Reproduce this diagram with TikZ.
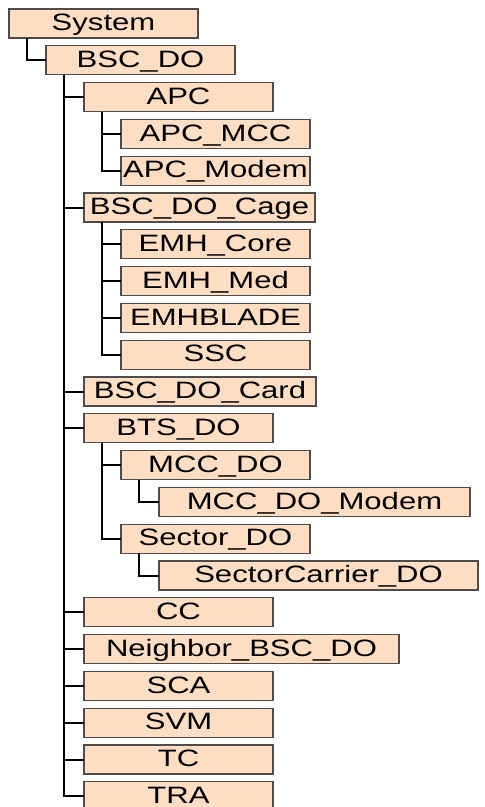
\documentclass[tikz,border=0pt]{standalone}
\usepackage{fontspec}
\newfontfamily\treefont{Liberation Sans}[FakeStretch=1.31]
\definecolor{boxfill}{rgb}{1.00, 0.87, 0.77}
\definecolor{boxline}{rgb}{0.30, 0.30, 0.30}

\begin{document}
\begin{tikzpicture}[x=1pt,y=-1pt,
  item/.style={draw=boxline, line width=1.3pt, fill=boxfill, anchor=north west,
    minimum width=189pt, minimum height=29pt, inner sep=0pt, outer sep=0pt,
    text height=17pt, text depth=2.5pt, font=\treefont\fontsize{23.7}{28}\selectfont},
  link/.style={draw=black, line width=2pt}]

\useasboundingbox (0,0) rectangle (485,807);

\node[item] (sys)      at (9,9)        {System};
\node[item] (bscdo)    at (46,45.8)    {BSC\_DO};

\node[item] (apc)      at (84,82.6)    {APC};
\node[item] (apcmcc)   at (121,119.4)  {APC\_MCC};
\node[item] (apcmodem) at (121,156.2)  {APC\_Modem};

\node[item, minimum width=231pt] (cage) at (84,193) {BSC\_DO\_Cage};
\node[item] (emhcore)  at (121,229.8)  {EMH\_Core};
\node[item] (emhmed)   at (121,266.6)  {EMH\_Med};
\node[item] (emhblade) at (121,303.4)  {EMHBLADE};
\node[item] (ssc)      at (121,340.2)  {SSC};

\node[item, minimum width=232pt] (card) at (84,377) {BSC\_DO\_Card};

\node[item] (btsdo)    at (84,413.8)   {BTS\_DO};
\node[item] (mccdo)    at (121,450.6)  {MCC\_DO};
\node[item, minimum width=311pt] (mccmodem) at (159,487.4) {MCC\_DO\_Modem};
\node[item] (sectordo) at (121,524.2)  {Sector\_DO};
\node[item, minimum width=319pt] (sectorcarrier) at (159,561) {SectorCarrier\_DO};

\node[item] (cc)       at (84,597.8)   {CC};
\node[item, minimum width=315pt] (neighbor) at (84,634.6) {Neighbor\_BSC\_DO};
\node[item] (sca)      at (84,671.4)   {SCA};
\node[item] (svm)      at (84,708.2)   {SVM};
\node[item] (tc)       at (84,745)     {TC};
\node[item] (tra)      at (84,781.8)   {TRA};

% tree links
\draw[link] ([xshift=18pt]sys.south west) |- (bscdo.west);

\draw[link] ([xshift=18pt]bscdo.south west) |- (apc.west);
\draw[link] ([xshift=18pt]bscdo.south west) |- (cage.west);
\draw[link] ([xshift=18pt]bscdo.south west) |- (card.west);
\draw[link] ([xshift=18pt]bscdo.south west) |- (btsdo.west);
\draw[link] ([xshift=18pt]bscdo.south west) |- (cc.west);
\draw[link] ([xshift=18pt]bscdo.south west) |- (neighbor.west);
\draw[link] ([xshift=18pt]bscdo.south west) |- (sca.west);
\draw[link] ([xshift=18pt]bscdo.south west) |- (svm.west);
\draw[link] ([xshift=18pt]bscdo.south west) |- (tc.west);
\draw[link] ([xshift=18pt]bscdo.south west) |- (tra.west);

\draw[link] ([xshift=18pt]apc.south west) |- (apcmcc.west);
\draw[link] ([xshift=18pt]apc.south west) |- (apcmodem.west);

\draw[link] ([xshift=18pt]cage.south west) |- (emhcore.west);
\draw[link] ([xshift=18pt]cage.south west) |- (emhmed.west);
\draw[link] ([xshift=18pt]cage.south west) |- (emhblade.west);
\draw[link] ([xshift=18pt]cage.south west) |- (ssc.west);

\draw[link] ([xshift=18pt]btsdo.south west) |- (mccdo.west);
\draw[link] ([xshift=18pt]btsdo.south west) |- (sectordo.west);
\draw[link] ([xshift=18pt]mccdo.south west) |- (mccmodem.west);
\draw[link] ([xshift=18pt]sectordo.south west) |- (sectorcarrier.west);

\end{tikzpicture}
\end{document}
